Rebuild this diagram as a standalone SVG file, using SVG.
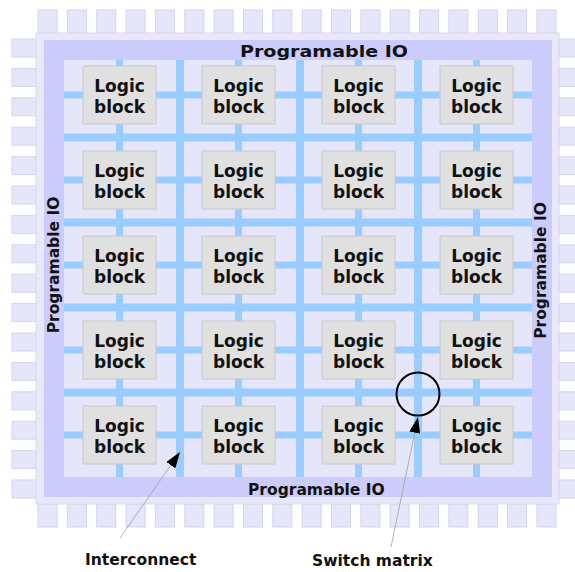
<svg xmlns="http://www.w3.org/2000/svg" width="575" height="572" viewBox="0 0 575 572">
<style>
.pin{fill:#e6e6fa;stroke:#d4d4ec;stroke-width:1}
.chip{fill:#e8e8fa;stroke:#dadaf0;stroke-width:1}
.io{fill:#ccccfc}
.core{fill:#e6e6fa}
.wire{stroke:#99ccff;stroke-width:8;fill:none}
.stub{stroke:#99ccff;stroke-width:7;fill:none}
.blk{fill:#e0e0e0;stroke:#c8c8c8;stroke-width:1}
.t{font-family:"DejaVu Sans","Liberation Sans",sans-serif;font-weight:bold;fill:#111}
.bt{font-size:17px;text-anchor:middle}
.lt{font-size:15.5px}
.lead{stroke:#a0a0a0;stroke-width:0.8;fill:none}
</style>
<defs>
<marker id="ah" markerUnits="userSpaceOnUse" markerWidth="16" markerHeight="11" refX="16" refY="5.5" orient="auto">
<path d="M0,0 L16,5.5 L0,11 z" fill="#000"/>
</marker>
<g id="lb"><rect class="blk" x="0" y="0" width="73" height="58"/><text class="t bt" x="36.5" y="25.5">Logic</text><text class="t bt" x="36.5" y="46.5">block</text></g>
</defs>
<g id="pins">
<g id="pins-top">
<rect class="pin" x="38" y="10" width="19" height="23"/><rect class="pin" x="67.4" y="10" width="19" height="23"/><rect class="pin" x="96.7" y="10" width="19" height="23"/><rect class="pin" x="126.1" y="10" width="19" height="23"/><rect class="pin" x="155.4" y="10" width="19" height="23"/><rect class="pin" x="184.8" y="10" width="19" height="23"/><rect class="pin" x="214.1" y="10" width="19" height="23"/><rect class="pin" x="243.5" y="10" width="19" height="23"/><rect class="pin" x="272.8" y="10" width="19" height="23"/><rect class="pin" x="302.2" y="10" width="19" height="23"/><rect class="pin" x="331.5" y="10" width="19" height="23"/><rect class="pin" x="360.9" y="10" width="19" height="23"/><rect class="pin" x="390.2" y="10" width="19" height="23"/><rect class="pin" x="419.6" y="10" width="19" height="23"/><rect class="pin" x="448.9" y="10" width="19" height="23"/><rect class="pin" x="478.3" y="10" width="19" height="23"/><rect class="pin" x="507.6" y="10" width="19" height="23"/><rect class="pin" x="537" y="10" width="19" height="23"/>
</g>
<g id="pins-bottom">
<rect class="pin" x="38" y="504" width="19" height="23"/><rect class="pin" x="67.4" y="504" width="19" height="23"/><rect class="pin" x="96.7" y="504" width="19" height="23"/><rect class="pin" x="126.1" y="504" width="19" height="23"/><rect class="pin" x="155.4" y="504" width="19" height="23"/><rect class="pin" x="184.8" y="504" width="19" height="23"/><rect class="pin" x="214.1" y="504" width="19" height="23"/><rect class="pin" x="243.5" y="504" width="19" height="23"/><rect class="pin" x="272.8" y="504" width="19" height="23"/><rect class="pin" x="302.2" y="504" width="19" height="23"/><rect class="pin" x="331.5" y="504" width="19" height="23"/><rect class="pin" x="360.9" y="504" width="19" height="23"/><rect class="pin" x="390.2" y="504" width="19" height="23"/><rect class="pin" x="419.6" y="504" width="19" height="23"/><rect class="pin" x="448.9" y="504" width="19" height="23"/><rect class="pin" x="478.3" y="504" width="19" height="23"/><rect class="pin" x="507.6" y="504" width="19" height="23"/><rect class="pin" x="537" y="504" width="19" height="23"/>
</g>
<g id="pins-left">
<rect class="pin" x="12" y="39" width="24" height="18"/><rect class="pin" x="12" y="68.4" width="24" height="18"/><rect class="pin" x="12" y="97.8" width="24" height="18"/><rect class="pin" x="12" y="127.2" width="24" height="18"/><rect class="pin" x="12" y="156.6" width="24" height="18"/><rect class="pin" x="12" y="186" width="24" height="18"/><rect class="pin" x="12" y="215.4" width="24" height="18"/><rect class="pin" x="12" y="244.8" width="24" height="18"/><rect class="pin" x="12" y="274.2" width="24" height="18"/><rect class="pin" x="12" y="303.6" width="24" height="18"/><rect class="pin" x="12" y="333" width="24" height="18"/><rect class="pin" x="12" y="362.4" width="24" height="18"/><rect class="pin" x="12" y="391.8" width="24" height="18"/><rect class="pin" x="12" y="421.2" width="24" height="18"/><rect class="pin" x="12" y="450.6" width="24" height="18"/><rect class="pin" x="12" y="480" width="24" height="18"/>
</g>
<g id="pins-right">
<rect class="pin" x="559" y="39" width="24" height="18"/><rect class="pin" x="559" y="68.4" width="24" height="18"/><rect class="pin" x="559" y="97.8" width="24" height="18"/><rect class="pin" x="559" y="127.2" width="24" height="18"/><rect class="pin" x="559" y="156.6" width="24" height="18"/><rect class="pin" x="559" y="186" width="24" height="18"/><rect class="pin" x="559" y="215.4" width="24" height="18"/><rect class="pin" x="559" y="244.8" width="24" height="18"/><rect class="pin" x="559" y="274.2" width="24" height="18"/><rect class="pin" x="559" y="303.6" width="24" height="18"/><rect class="pin" x="559" y="333" width="24" height="18"/><rect class="pin" x="559" y="362.4" width="24" height="18"/><rect class="pin" x="559" y="391.8" width="24" height="18"/><rect class="pin" x="559" y="421.2" width="24" height="18"/><rect class="pin" x="559" y="450.6" width="24" height="18"/><rect class="pin" x="559" y="480" width="24" height="18"/>
</g>
</g>
<g id="chip">
<rect class="chip" x="36" y="33" width="523" height="471"/>
<rect class="io" x="44" y="40" width="508" height="457"/>
<rect class="core" x="64" y="60" width="468" height="417"/>
</g>
<g id="routing">
<path class="stub" d="M119.5,60V477M238.5,60V477M358.5,60V477M476.5,60V477M64,95H532M64,180H532M64,265H532M64,350H532M64,435H532"/>
<path class="wire" d="M180,60V477M300,60V477M418,60V477M64,137.5H532M64,222.5H532M64,307.5H532M64,392.5H532"/>
</g>
<g id="logic-blocks">
<use id="lb-1-1" href="#lb" x="83" y="66"/><use id="lb-1-2" href="#lb" x="202" y="66"/><use id="lb-1-3" href="#lb" x="322" y="66"/><use id="lb-1-4" href="#lb" x="440" y="66"/>
<use id="lb-2-1" href="#lb" x="83" y="151"/><use id="lb-2-2" href="#lb" x="202" y="151"/><use id="lb-2-3" href="#lb" x="322" y="151"/><use id="lb-2-4" href="#lb" x="440" y="151"/>
<use id="lb-3-1" href="#lb" x="83" y="236"/><use id="lb-3-2" href="#lb" x="202" y="236"/><use id="lb-3-3" href="#lb" x="322" y="236"/><use id="lb-3-4" href="#lb" x="440" y="236"/>
<use id="lb-4-1" href="#lb" x="83" y="321"/><use id="lb-4-2" href="#lb" x="202" y="321"/><use id="lb-4-3" href="#lb" x="322" y="321"/><use id="lb-4-4" href="#lb" x="440" y="321"/>
<use id="lb-5-1" href="#lb" x="83" y="406"/><use id="lb-5-2" href="#lb" x="202" y="406"/><use id="lb-5-3" href="#lb" x="322" y="406"/><use id="lb-5-4" href="#lb" x="440" y="406"/>
</g>
<g id="io-top"><text class="t lt" x="240" y="56.5" textLength="168" lengthAdjust="spacingAndGlyphs">Programable IO</text></g>
<g id="io-bottom"><text class="t lt" x="248" y="495">Programable IO</text></g>
<g id="io-left"><text class="t lt" text-anchor="middle" transform="translate(58.5,265) rotate(-90)">Programable IO</text></g>
<g id="io-right"><text class="t lt" text-anchor="middle" transform="translate(545.5,270.5) rotate(-90)">Programable IO</text></g>
<g id="switch-matrix"><circle cx="418" cy="394" r="21.5" fill="none" stroke="#000" stroke-width="2"/></g>
<g id="connectors">
<line class="lead" x1="120" y1="538" x2="180" y2="452" marker-end="url(#ah)"/>
<line class="lead" x1="391" y1="547" x2="418" y2="417" marker-end="url(#ah)"/>
</g>
<g id="label-interconnect"><text class="t lt" x="85" y="565">Interconnect</text></g>
<g id="label-switch"><text class="t lt" x="312" y="566">Switch matrix</text></g>
</svg>
